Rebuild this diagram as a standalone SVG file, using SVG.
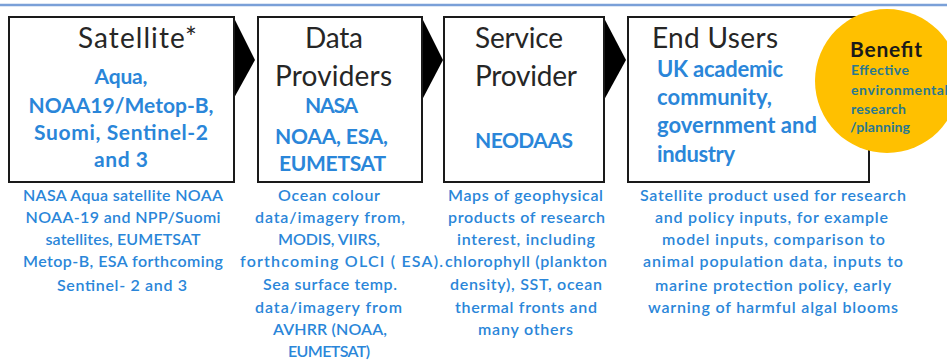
<svg xmlns="http://www.w3.org/2000/svg" width="947" height="361" viewBox="0 0 947 361">
<style>
.box{fill:#fff;stroke:#1a1a1a;stroke-width:2}
.title{font-family:Lato,"Liberation Sans",sans-serif;font-size:28px;fill:#262626}
.blue{font-family:Lato,"Liberation Sans",sans-serif;font-size:21px;font-weight:bold;fill:#2a86d9}
.blue4{font-family:Lato,"Liberation Sans",sans-serif;font-size:22px;font-weight:bold;fill:#2a86d9}
.note{font-family:Lato,"Liberation Sans",sans-serif;font-size:16px;font-weight:600;fill:#2a86d9;text-anchor:middle}
.ben{font-family:Lato,"Liberation Sans",sans-serif;font-size:21px;font-weight:bold;fill:#1a1a1a}
.small{font-family:Lato,"Liberation Sans",sans-serif;font-size:14px;font-weight:bold;fill:#2a7890}
.c{text-anchor:middle}
.arrow{fill:#000}
</style>
<rect width="947" height="361" fill="#fff"/>
<line x1="0" y1="5" x2="947" y2="5" stroke="#7aa0d8" stroke-width="2.5"/>
<g id="connectors">
<polygon class="arrow" points="234,18 255,60 234,98"/>
<polygon class="arrow" points="422,18 443,60 422,100"/>
<polygon class="arrow" points="604,18 626,60 604,100"/>
</g>
<g id="satellite">
<rect class="box" x="9" y="17" width="225" height="165"/>
<text class="title" x="78" y="48" textLength="119">Satellite*</text>
<text class="blue c" x="121" y="84" textLength="53">Aqua,</text>
<text class="blue c" x="121" y="113" textLength="185">NOAA19/Metop-B,</text>
<text class="blue c" x="121" y="140" textLength="174">Suomi, Sentinel-2</text>
<text class="blue c" x="121" y="167" textLength="54">and 3</text>
<g class="note">
<text x="123" y="201" textLength="200">NASA Aqua satellite NOAA</text>
<text x="123" y="223" textLength="195">NOAA-19 and NPP/Suomi</text>
<text x="123" y="245" textLength="155">satellites, EUMETSAT</text>
<text x="123" y="267" textLength="200">Metop-B, ESA forthcoming</text>
<text x="122" y="291" textLength="130">Sentinel- 2 and 3</text>
</g>
</g>
<g id="data-providers">
<rect class="box" x="258" y="17" width="164" height="165"/>
<text class="title" x="305" y="48" textLength="58">Data</text>
<text class="title" x="275" y="86" textLength="117">Providers</text>
<text class="blue c" x="331.5" y="113" textLength="53">NASA</text>
<text class="blue c" x="331.5" y="144" textLength="113">NOAA, ESA,</text>
<text class="blue c" x="332.5" y="171" textLength="107">EUMETSAT</text>
<g class="note">
<text x="329" y="201" textLength="102">Ocean colour</text>
<text x="330" y="223" textLength="150">data/imagery  from,</text>
<text x="329" y="245" textLength="102">MODIS,  VIIRS,</text>
<text x="341.5" y="267" textLength="203">forthcoming OLCI ( ESA).</text>
<text x="330" y="290" textLength="134">Sea surface temp.</text>
<text x="328.5" y="313" textLength="147">data/imagery  from</text>
<text x="330" y="335" textLength="114">AVHRR (NOAA,</text>
<text x="329" y="357" textLength="82">EUMETSAT)</text>
</g>
</g>
<g id="service-provider">
<rect class="box" x="444" y="17" width="160" height="165"/>
<text class="title" x="475" y="48" textLength="88">Service</text>
<text class="title" x="475" y="86" textLength="102">Provider</text>
<text class="blue" x="475" y="148" textLength="98">NEODAAS</text>
<g class="note">
<text x="525.5" y="201" textLength="155">Maps of geophysical</text>
<text x="526.5" y="223" textLength="157">products of research</text>
<text x="526" y="245" textLength="138">interest, including</text>
<text x="526" y="267" textLength="162">chlorophyll  (plankton</text>
<text x="526" y="290" textLength="152">density), SST,  ocean</text>
<text x="526" y="313" textLength="142">thermal  fronts and</text>
<text x="525.5" y="335" textLength="95">many others</text>
</g>
</g>
<g id="end-users">
<rect class="box" x="628" y="17" width="241" height="165"/>
<text class="title" x="652" y="48" textLength="126">End Users</text>
<text class="blue4" x="657" y="77" textLength="126">UK academic</text>
<text class="blue4" x="657" y="105" textLength="115">community,</text>
<text class="blue4" x="657" y="133" textLength="160">government and</text>
<text class="blue4" x="657" y="162" textLength="78">industry</text>
<g class="note">
<text x="773" y="201" textLength="266">Satellite  product used for research</text>
<text x="771.5" y="223" textLength="233">and  policy inputs, for example</text>
<text x="773.5" y="245" textLength="223">model inputs, comparison  to</text>
<text x="773" y="267" textLength="260">animal  population  data,  inputs to</text>
<text x="773" y="291" textLength="236">marine  protection policy,  early</text>
<text x="773" y="313" textLength="250">warning  of harmful algal  blooms</text>
</g>
</g>
<g id="benefit">
<circle cx="887" cy="81" r="72" fill="#ffc000"/>
<text class="ben" x="850" y="57" textLength="72">Benefit</text>
<text class="small" x="851" y="75" textLength="58">Effective</text>
<text class="small" x="851" y="95" textLength="97">environmental</text>
<text class="small" x="851" y="114" textLength="55">research</text>
<text class="small" x="850" y="132" textLength="60">/planning</text>
</g>
</svg>
